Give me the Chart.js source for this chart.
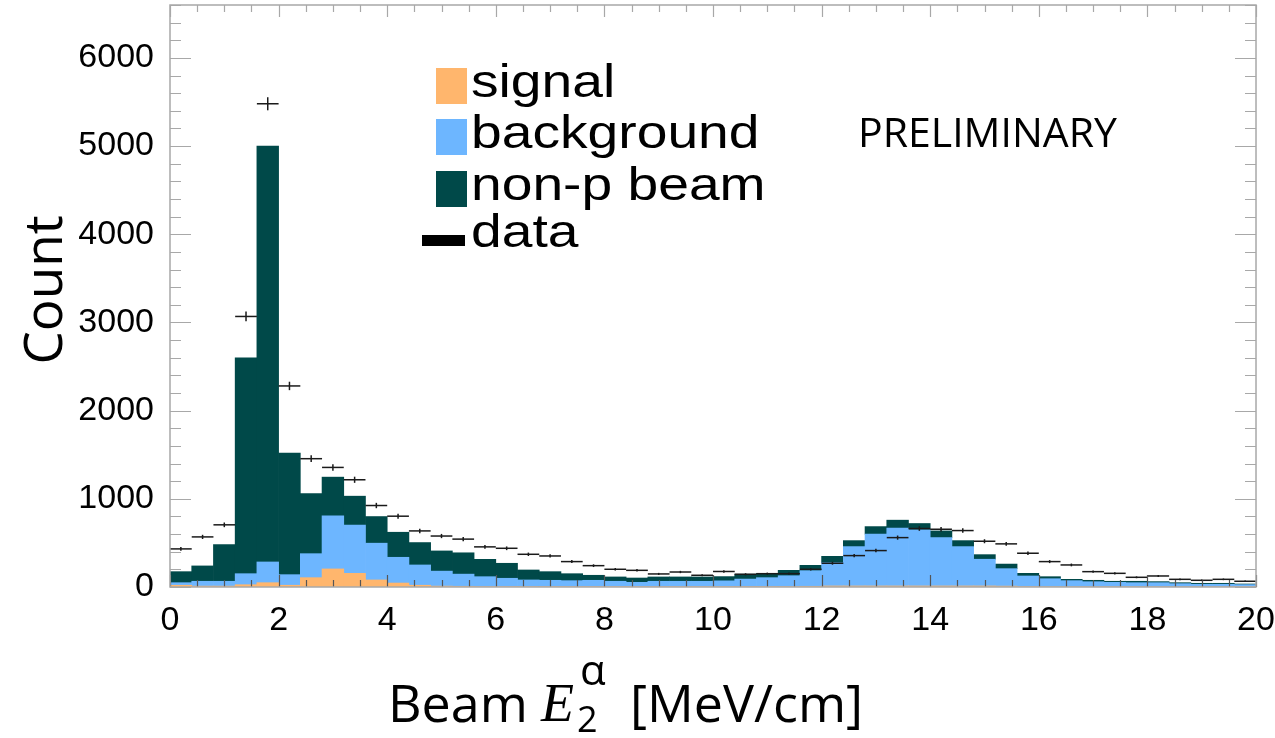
<!DOCTYPE html>
<html>
<head>
<meta charset="utf-8">
<script src="https://cdn.jsdelivr.net/npm/chart.js@4.4.1/dist/chart.umd.min.js"></script>
<style>
  html, body { margin: 0; padding: 0; background: #fff; }
</style>
</head>
<body>
<canvas id="myChart" width="1275" height="738"></canvas>
<script>
// centri dei bin (larghezza 0.4) da 0 a 20
const binWidth = 0.4;
const binCenters = [0.2, 0.6, 1.0, 1.4, 1.8, 2.2, 2.6, 3.0, 3.4, 3.8, 4.2, 4.6, 5.0, 5.4, 5.8, 6.2, 6.6, 7.0, 7.4, 7.8,
  8.2, 8.6, 9.0, 9.4, 9.8, 10.2, 10.6, 11.0, 11.4, 11.8, 12.2, 12.6, 13.0, 13.4, 13.8, 14.2, 14.6, 15.0, 15.4, 15.8,
  16.2, 16.6, 17.0, 17.4, 17.8, 18.2, 18.6, 19.0, 19.4, 19.8];

// conteggi per ogni componente (impilati: signal sotto, poi background, poi non-p beam)
const signal = [20, 10, 10, 26, 49, 20, 106, 205, 155, 80, 45, 20, 10, 8, 5, 5, 5, 5, 5, 5,
  5, 5, 5, 5, 5, 5, 5, 5, 5, 8, 12, 12, 12, 12, 12, 12, 12, 12, 10, 5,
  3, 3, 3, 3, 3, 3, 3, 3, 3, 3];
const background = [29, 55, 55, 125, 235, 120, 272, 602, 546, 417, 292, 230, 170, 138, 112, 94, 75, 71, 67, 71,
  60, 48, 60, 60, 60, 65, 85, 101, 123, 177, 264, 446, 587, 655, 636, 548, 446, 303, 198, 120,
  91, 69, 57, 50, 46, 46, 35, 28, 28, 24];
const nonPBeam = [125, 174, 416, 2449, 4716, 1379, 682, 439, 329, 302, 284, 254, 229, 242, 197, 170, 113, 98, 79, 57,
  49, 49, 49, 49, 49, 48, 56, 49, 61, 61, 72, 68, 86, 91, 72, 76, 68, 52, 52, 30,
  23, 15, 16, 12, 16, 12, 11, 11, 11, 7];
const dataCounts = [432, 568, 705, 3068, 5480, 2280, 1455, 1356, 1216, 924, 803, 636, 578, 543, 455, 439, 371, 352, 288, 242,
  201, 189, 148, 170, 133, 176, 144, 151, 151, 201, 269, 356, 413, 560, 663, 655, 640, 519, 489, 383,
  288, 250, 174, 155, 110, 125, 87, 76, 87, 65];

// etichette degli assi
const xTicks = [0, 2, 4, 6, 8, 10, 12, 14, 16, 18, 20];
const yTicks = [0, 1000, 2000, 3000, 4000, 5000, 6000];
const yMax = 6600;

const colSignal = "#ffb66d";
const colBackground = "#6db6ff";
const colNonP = "#004949";

const toPoints = (arr) => arr.map((v, i) => ({ x: binCenters[i], y: v }));

// cornice grigia con le tacche rivolte verso l'interno (stile ROOT)
const frameTicks = {
  id: "frameTicks",
  afterDatasetsDraw(chart) {
    const { ctx, chartArea: a, scales: { x, y } } = chart;
    ctx.save();
    ctx.strokeStyle = "#a8a8a8";
    ctx.lineWidth = 1.2;
    ctx.beginPath();
    for (let v = 0; v <= yMax; v += 200) {
      const py = Math.round(y.getPixelForValue(v)) + 0.5;
      const len = v % 1000 === 0 ? 21 : 11;
      ctx.moveTo(a.left, py); ctx.lineTo(a.left + len, py);
      ctx.moveTo(a.right, py); ctx.lineTo(a.right - len, py);
    }
    ctx.stroke();
    ctx.strokeStyle = "#555";
    ctx.beginPath();
    for (let v = 0; v <= 20; v += 0.5) {
      const px = Math.round(x.getPixelForValue(v)) + 0.5;
      const len = v % 2 === 0 ? 12 : 7;
      ctx.moveTo(px, a.bottom); ctx.lineTo(px, a.bottom - len);
    }
    ctx.stroke();
    ctx.strokeStyle = "#a8a8a8";
    ctx.beginPath();
    for (let v = 0; v <= 20; v += 0.5) {
      const px = Math.round(x.getPixelForValue(v)) + 0.5;
      const len = v % 2 === 0 ? 12 : 7;
      ctx.moveTo(px, a.top); ctx.lineTo(px, a.top + len);
    }
    ctx.stroke();
    ctx.lineWidth = 1.5;
    ctx.strokeRect(a.left, a.top, a.right - a.left, a.bottom - a.top);
    ctx.restore();
  }
};

// barre d'errore verticali sqrt(N) sui dati
const errorBars = {
  id: "errorBars",
  afterDatasetsDraw(chart) {
    const { ctx, scales: { x, y } } = chart;
    ctx.save();
    ctx.strokeStyle = "#1a1a1a";
    ctx.lineWidth = 1.5;
    dataCounts.forEach((n, i) => {
      const px = x.getPixelForValue(binCenters[i]);
      const e = Math.sqrt(n);
      ctx.beginPath();
      ctx.moveTo(px, y.getPixelForValue(n - e));
      ctx.lineTo(px, y.getPixelForValue(n + e));
      ctx.stroke();
    });
    ctx.restore();
  }
};

// legenda, scritta PRELIMINARY e titoli degli assi
const extraText = {
  id: "extraText",
  afterDraw(chart) {
    const ctx = chart.ctx;
    ctx.save();
    ctx.fillStyle = "#000";
    ctx.textAlign = "left";
    ctx.textBaseline = "alphabetic";

    const rows = [
      { label: "signal", color: colSignal, base: 97 },
      { label: "background", color: colBackground, base: 148 },
      { label: "non-p beam", color: colNonP, base: 200 },
      { label: "data", color: null, base: 247 }
    ];
    rows.forEach((r) => {
      if (r.color) {
        ctx.fillStyle = r.color;
        ctx.fillRect(436, r.base - 29, 31, 36);
      } else {
        ctx.fillStyle = "#000";
        ctx.fillRect(422, r.base - 12, 43, 11);
      }
      ctx.fillStyle = "#000";
      ctx.save();
      ctx.translate(471, r.base);
      ctx.scale(1.2, 1);
      ctx.font = "46px 'Liberation Sans', Arial, sans-serif";
      ctx.fillText(r.label, 0, 0);
      ctx.restore();
    });

    ctx.font = "41px 'Open Sans', sans-serif";
    ctx.fillText("PRELIMINARY", 858, 147);

    // titolo asse y
    ctx.save();
    ctx.translate(62, 290);
    ctx.rotate(-Math.PI / 2);
    ctx.textAlign = "center";
    ctx.font = "53px 'Open Sans', sans-serif";
    ctx.fillText("Count", 0, 0);
    ctx.restore();

    // titolo asse x con pedice e apice
    ctx.font = "52px 'Open Sans', sans-serif";
    ctx.fillText("Beam", 388, 722);
    ctx.font = "italic 54px 'Liberation Serif', serif";
    ctx.fillText("E", 541, 721);
    ctx.font = "36px 'Open Sans', sans-serif";
    ctx.fillText("2", 577, 732);
    ctx.font = "42px 'Open Sans', sans-serif";
    ctx.fillText("α", 580, 685);
    ctx.font = "52px 'Open Sans', sans-serif";
    ctx.fillText("[MeV/cm]", 630, 722);
    ctx.restore();
  }
};

const barSet = (label, values, color) => ({
  type: "bar",
  label: label,
  data: toPoints(values),
  backgroundColor: color,
  borderWidth: 0,
  barPercentage: 1,
  categoryPercentage: 1
});

const tickFont = { family: "'Liberation Sans', Arial, sans-serif", size: 34 };

new Chart(document.getElementById("myChart"), {
  type: "bar",
  data: {
    datasets: [
      {
        type: "scatter",
        label: "data",
        data: toPoints(dataCounts),
        stack: "data",
        order: -1,
        pointStyle: "line",
        pointRadius: (c) => {
          const s = c.chart.scales.x;
          return (s.getPixelForValue(binWidth) - s.getPixelForValue(0)) / 2;
        },
        borderColor: "#1a1a1a",
        borderWidth: 1.5
      },
      barSet("signal", signal, colSignal),
      barSet("background", background, colBackground),
      barSet("non-p beam", nonPBeam, colNonP)
    ]
  },
  options: {
    responsive: false,
    animation: false,
    layout: { padding: { top: 5, right: 19, left: 0, bottom: 0 } },
    plugins: {
      legend: { display: false },
      tooltip: { enabled: false }
    },
    scales: {
      x: {
        type: "linear",
        min: 0,
        max: 20,
        offset: false,
        stacked: true,
        grid: { display: false },
        border: { display: false },
        afterBuildTicks: (s) => { s.ticks = xTicks.map((v) => ({ value: v })); },
        afterFit: (s) => { s.height = 151; s.paddingLeft = 0; s.paddingRight = 0; },
        ticks: { font: tickFont, color: "#000", padding: 5, maxRotation: 0, autoSkip: false, callback: (v) => String(v) }
      },
      y: {
        min: 0,
        max: yMax,
        stacked: true,
        grid: { display: false },
        border: { display: false },
        afterBuildTicks: (s) => { s.ticks = yTicks.map((v) => ({ value: v })); },
        afterFit: (s) => { s.width = 170; s.paddingTop = 0; s.paddingBottom = 0; },
        ticks: { font: tickFont, color: "#000", padding: 8, callback: (v) => String(v) }
      }
    }
  },
  plugins: [frameTicks, errorBars, extraText]
});
</script>
</body>
</html>
